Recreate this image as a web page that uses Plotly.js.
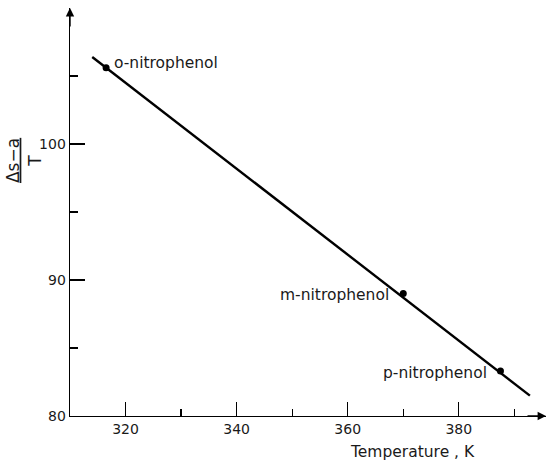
<!DOCTYPE html>
<html><head><meta charset="utf-8">
<script src="https://cdn.plot.ly/plotly-3.0.1.min.js"></script>
<style>html,body{margin:0;padding:0;background:#fff}#c{width:548px;height:467px}</style>
</head><body><div id="c"></div>
<script>
var compounds = ["o-nitrophenol", "m-nitrophenol", "p-nitrophenol"];
var temperatureK = [316.5, 370.0, 387.5];
var deltaSaOverT = [105.6, 89.0, 83.3];
var fitLineX = [314.0, 392.8];
var fitLineY = [106.4, 81.5];
var xTickVals = [320, 340, 360, 380];
var yTickVals = [80, 90, 100];

var FONT = "'DejaVu Sans', sans-serif";
var TXT = '#1a1a1a';
var traces = [
  {x: fitLineX, y: fitLineY, mode: 'lines', line: {color: '#000', width: 2.4}, hoverinfo: 'skip'},
  {x: temperatureK, y: deltaSaOverT, mode: 'markers', marker: {color: '#000', size: 7}}
];
var labelPos = [
  {xanchor: 'left', xshift: 6, yshift: 5},
  {xanchor: 'right', xshift: -12, yshift: -1},
  {xanchor: 'right', xshift: -11, yshift: -2}
];
var annotations = compounds.map(function(c, i) {
  return {x: temperatureK[i], y: deltaSaOverT[i], xref: 'x', yref: 'y', text: c,
    showarrow: false, xanchor: labelPos[i].xanchor, xshift: labelPos[i].xshift,
    yshift: labelPos[i].yshift, font: {family: FONT, size: 15.5, color: TXT}};
});
annotations.push({xref: 'paper', yref: 'paper', x: 0.72, y: -0.088, xanchor: 'center', yanchor: 'middle',
  text: 'Temperature , K', showarrow: false, font: {family: FONT, size: 15.5, color: TXT}});
annotations.push({xref: 'paper', yref: 'paper', x: -0.097, y: 0.627, xanchor: 'center', yanchor: 'middle',
  text: '<u>Δs−a</u><br>T', textangle: -90, showarrow: false, font: {family: FONT, size: 17, color: TXT}});
// axis arrowheads
annotations.push({xref: 'paper', yref: 'paper', x: 0, y: 1, ax: 0, ay: 20, text: '', showarrow: true,
  arrowhead: 2, arrowsize: 1.2, arrowwidth: 1.4, arrowcolor: '#000'});
annotations.push({xref: 'paper', yref: 'paper', x: 1, y: 0, ax: -20, ay: 0, text: '', showarrow: true,
  arrowhead: 2, arrowsize: 1.2, arrowwidth: 1.4, arrowcolor: '#000'});

var layout = {
  width: 548, height: 467,
  margin: {l: 70, r: 2, t: 8, b: 51},
  paper_bgcolor: '#fff', plot_bgcolor: '#fff',
  showlegend: false,
  font: {family: FONT, size: 14, color: TXT},
  xaxis: {range: [310, 395.7], tickvals: xTickVals, ticks: 'inside', ticklen: 14, tickwidth: 1.2,
    tickcolor: '#000', showline: true, linecolor: '#000', linewidth: 1.4, showgrid: false, zeroline: false,
    minor: {tickvals: [330, 350, 370, 390], ticks: 'inside', ticklen: 7, tickwidth: 1.2, tickcolor: '#000'},
    tickfont: {family: FONT, size: 14, color: TXT}},
  yaxis: {range: [80, 110], tickvals: yTickVals, ticks: 'inside', ticklen: 15, tickwidth: 1.2,
    tickcolor: '#000', showline: true, linecolor: '#000', linewidth: 1.4, showgrid: false, zeroline: false,
    minor: {tickvals: [85, 95, 105], ticks: 'inside', ticklen: 8, tickwidth: 1.2, tickcolor: '#000'},
    tickfont: {family: FONT, size: 14, color: TXT}},
  annotations: annotations
};
Plotly.newPlot('c', traces, layout, {staticPlot: true});
</script></body></html>
